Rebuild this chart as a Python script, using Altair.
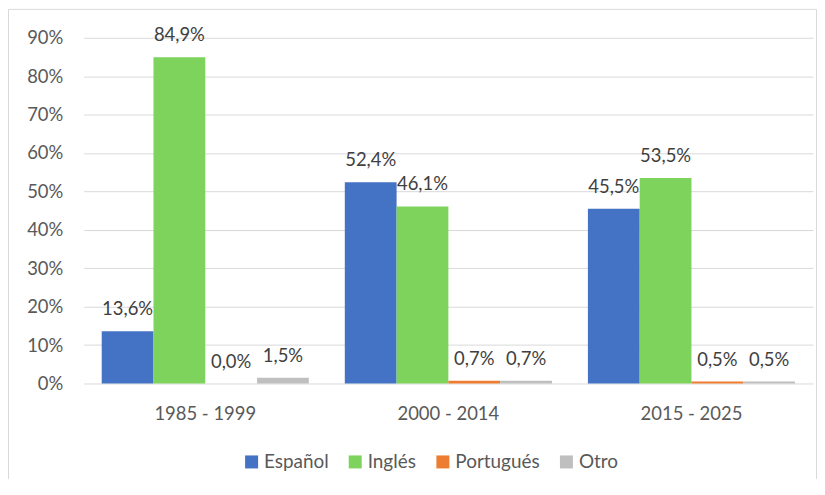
import altair as alt
import pandas as pd

periods = ["1985 - 1999", "2000 - 2014", "2015 - 2025"]
languages = ["Español", "Inglés", "Portugués", "Otro"]
espanol = [13.6, 52.4, 45.5]
ingles = [84.9, 46.1, 53.5]
portugues = [0.0, 0.7, 0.5]
otro = [1.5, 0.7, 0.5]
colors = ["#4472C4", "#7DD35B", "#ED7D31", "#BFBFBF"]
y_ticks = [0.0, 0.1, 0.2, 0.3, 0.4, 0.5, 0.6, 0.7, 0.8, 0.9]

series = [espanol, ingles, portugues, otro]
rows = []
for lang, vals in zip(languages, series):
    for p, v in zip(periods, vals):
        rows.append({
            "Periodo": p,
            "Idioma": lang,
            "valor": v / 100.0,
            "etiqueta": f"{v:.1f}".replace(".", ",") + "%",
        })
df = pd.DataFrame(rows)

FONT = "Lato"
FS = 18.5

x_enc = alt.X("Periodo:N", sort=periods,
              scale=alt.Scale(paddingInner=0.148, paddingOuter=0.074),
              axis=alt.Axis(title=None, labelAngle=0, domain=False, ticks=False,
                            labelFontSize=FS, labelColor="#595959", labelFont=FONT,
                            labelPadding=21))
y_enc = alt.Y("valor:Q",
              scale=alt.Scale(domain=[0, 0.9], nice=False),
              axis=alt.Axis(title=None, format=".0%", values=y_ticks,
                            labelOverlap=False,
                            domain=False, ticks=False, grid=True, gridColor="#D9D9D9",
                            gridWidth=1, labelFontSize=FS, labelColor="#595959",
                            labelFont=FONT, labelPadding=21))
xoff = alt.XOffset("Idioma:N", sort=languages)

base = alt.Chart(df)

bars = base.mark_bar().encode(
    x=x_enc,
    xOffset=xoff,
    y=y_enc,
    color=alt.Color("Idioma:N", sort=languages,
                    scale=alt.Scale(domain=languages, range=colors),
                    legend=alt.Legend(title=None, orient="none", direction="horizontal",
                                      legendX=159, legendY=416, symbolType="square",
                                      symbolSize=170, symbolStrokeWidth=0,
                                      labelFontSize=19, labelColor="#595959",
                                      labelFont=FONT, labelOffset=3, columnPadding=17,
                                      padding=0)),
)

labels = base.mark_text(dy=-22, fontSize=FS, color="#404040", font=FONT).encode(
    x=x_enc,
    xOffset=xoff,
    y=y_enc,
    text="etiqueta:N",
)

border = alt.Chart(alt.Data(values=[{}])).mark_rect(
    fill=None, stroke="#D9D9D9", strokeWidth=1
).encode(
    x=alt.value(-75.5), x2=alt.value(735.5), y=alt.value(-28.5), y2=alt.value(470)
)

chart = alt.layer(border, bars, labels).properties(
    width=732, height=347,
    autosize=alt.AutoSizeParams(type="none"),
    padding={"left": 76, "top": 29, "right": 4, "bottom": 95},
).configure(background="white").configure_view(stroke=None)

chart.save("out.html", embed_options={"renderer": "svg", "actions": False})
